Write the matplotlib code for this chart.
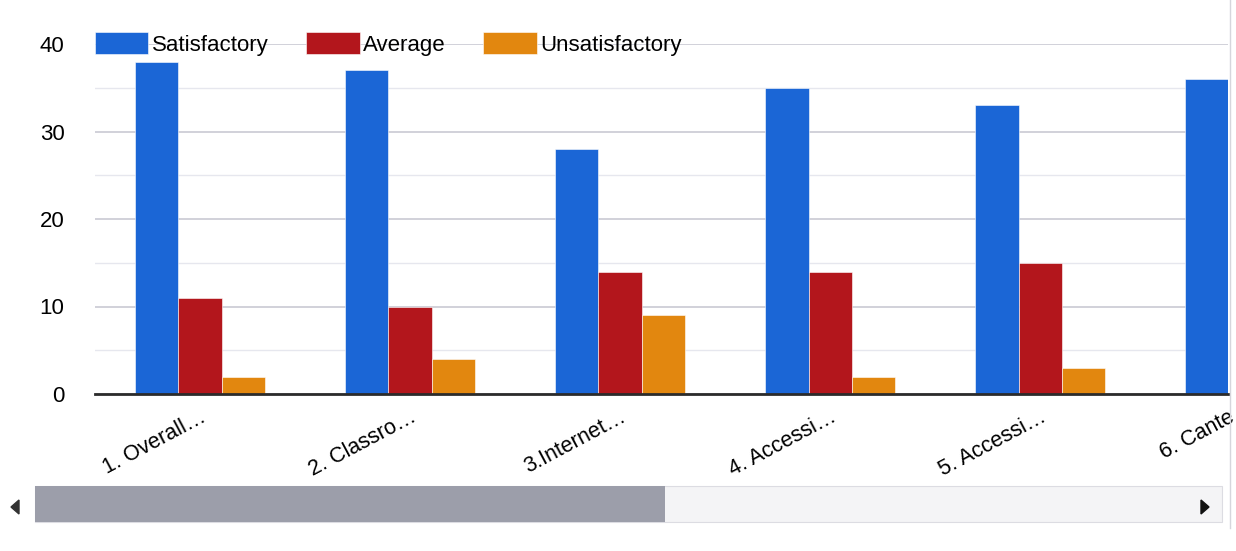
import numpy as np
import matplotlib.pyplot as plt
from matplotlib.patches import Rectangle, Polygon
from matplotlib.transforms import offset_copy

plt.rcParams['font.family'] = ['Liberation Sans', 'DejaVu Sans']

# ---- data ----
categorias = ["1. Overall…", "2. Classro…", "3.Internet…",
              "4. Accessi…", "5. Accessi…", "6. Cante"]
satisfactory = [38, 37, 28, 35, 33, 36]
average = [11, 10, 14, 14, 15, 12]       # 6th value is scrolled out of view
unsatisfactory = [2, 4, 9, 2, 3, 3]      # 6th value is scrolled out of view
y_ticks = [0, 10, 20, 30, 40]

c_sat = '#1b66d6'
c_avg = '#b3161c'
c_uns = '#e2870f'

fig = plt.figure(figsize=(12.36, 5.51), dpi=100)
ax = fig.add_axes([95 / 1236, 1 - 394 / 551, (1228 - 95) / 1236, 350 / 551])

x = np.arange(len(categorias))
w = 0.205
ax.bar(x - w, satisfactory, w, color=c_sat, edgecolor='white', linewidth=0.4,
       label='Satisfactory', zorder=3)
ax.bar(x, average, w, color=c_avg, edgecolor='white', linewidth=0.4,
       label='Average', zorder=3)
ax.bar(x + w, unsatisfactory, w, color=c_uns, edgecolor='white', linewidth=0.4,
       label='Unsatisfactory', zorder=3)

# chart is scrolled: only the first bar of group 6 peeks in
ax.set_xticks([])
ax.set_xlim(-0.5, 4.895)
ax.set_ylim(0, 40)

# category labels drawn by hand; the scrolled-off one is pinned to the right edge
x_fin = ax.get_xlim()[1]
trans_lab = offset_copy(ax.get_xaxis_transform(), fig=fig, y=-9, units='points')
for xi, cat in zip(x, categorias):
    ax.text(min(xi, x_fin), 0, cat, transform=trans_lab, rotation=28,
            ha='right', va='top', rotation_mode='anchor', fontsize=15.5)

# grid: labelled lines every 10, fainter ones at the 5s
ax.set_yticks(y_ticks)
ax.set_yticks([5, 15, 25, 35], minor=True)
ax.grid(axis='y', which='major', color='#c9cad3', linewidth=1.2, zorder=0)
ax.grid(axis='y', which='minor', color='#e6e7ee', linewidth=1.0, zorder=0)
ax.tick_params(axis='y', which='both', length=0, labelsize=16, pad=22)

for s in ['top', 'right', 'left']:
    ax.spines[s].set_visible(False)
ax.spines['bottom'].set_color('#2b2b2b')
ax.spines['bottom'].set_linewidth(2)
ax.spines['bottom'].set_zorder(4)

# legend sits on the top gridline
ax.legend(loc='center left', bbox_to_anchor=(0, 1.0), ncol=3, frameon=False,
          fontsize=16, borderaxespad=0, borderpad=0, handlelength=2.4,
          handleheight=1.15, handletextpad=0.15, columnspacing=1.7)

# ---- scroll bar under the chart ----
fig.add_artist(Rectangle((35 / 1236, 1 - 522 / 551), (1222 - 35) / 1236, 36 / 551,
                         transform=fig.transFigure, facecolor='#f4f4f6',
                         edgecolor='#dcdce2', linewidth=0.8))
fig.add_artist(Rectangle((35 / 1236, 1 - 522 / 551), 630 / 1236, 36 / 551,
                         transform=fig.transFigure, facecolor='#9c9eaa',
                         edgecolor='none'))
fig.add_artist(Polygon([[11 / 1236, 1 - 507 / 551], [19 / 1236, 1 - 500 / 551],
                        [19 / 1236, 1 - 514 / 551]], closed=True,
                       transform=fig.transFigure, color='#333333'))
fig.add_artist(Polygon([[1209 / 1236, 1 - 507 / 551], [1201 / 1236, 1 - 500 / 551],
                        [1201 / 1236, 1 - 514 / 551]], closed=True,
                       transform=fig.transFigure, color='#111111'))
# right border of the card
fig.add_artist(plt.Line2D([1230 / 1236, 1230 / 1236], [1 - 528 / 551, 1],
                          transform=fig.transFigure, color='#d6d6dc', linewidth=1))

plt.savefig("out.png")
